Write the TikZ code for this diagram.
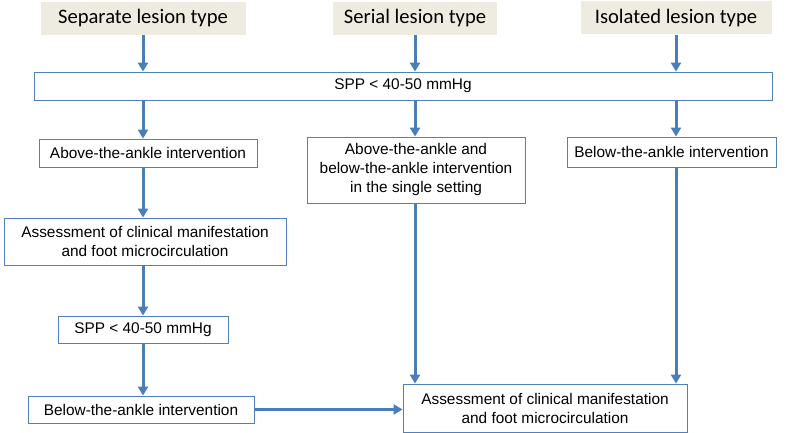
\documentclass[tikz,border=0pt]{standalone}
\usepackage{fontspec}
\setmainfont{Liberation Sans}
\newfontfamily\hdfont{Carlito}
\usetikzlibrary{arrows.meta}
\definecolor{arr}{HTML}{4A7EBB}
\definecolor{bord}{HTML}{4F81BD}
\definecolor{hdr}{HTML}{EEECE1}
\tikzset{
  hdrbox/.style={fill=hdr, inner sep=0pt, font=\hdfont\fontsize{20.6}{24}\selectfont},
  flowbox/.style={draw=bord, line width=0.9pt, fill=white, inner sep=0pt, align=center,
    font=\fontsize{15.4}{19}\selectfont},
  flowarr/.style={draw=arr, line width=3pt, -{Triangle[width=10pt,length=9pt]}},
}
\begin{document}
\begin{tikzpicture}[x=1pt,y=1pt]
\useasboundingbox (0,0) rectangle (787,-433);
% headers
\node[hdrbox, minimum width=205, minimum height=33] (h1) at (143,-18.5) {Separate lesion type};
\node[hdrbox, minimum width=164, minimum height=33] (h2) at (415,-18.5) {Serial lesion type};
\node[hdrbox, minimum width=191, minimum height=33] (h3) at (676,-18) {Isolated lesion type};
% boxes
\node[flowbox, minimum width=738, minimum height=28] (spp) at (403,-86) {SPP < 40-50 mmHg};
\node[flowbox, minimum width=218, minimum height=28] (above) at (148,-153) {Above-the-ankle intervention};
\node[flowbox, minimum width=218, minimum height=66] (serial) at (416,-170) {Above-the-ankle and\\below-the-ankle intervention\\in the single setting};
\node[flowbox, minimum width=209, minimum height=30] (belowR) at (671.5,-152) {Below-the-ankle intervention};
\node[flowbox, minimum width=282, minimum height=47] (assessL) at (145,-241.5) {Assessment of clinical manifestation\\and foot microcirculation};
\node[flowbox, minimum width=170, minimum height=27] (sppS) at (143,-329.5) {SPP < 40-50 mmHg};
\node[flowbox, minimum width=226, minimum height=27] (belowL) at (141,-409.5) {Below-the-ankle intervention};
\node[flowbox, minimum width=284, minimum height=48] (assessR) at (545,-408) {Assessment of clinical manifestation\\and foot microcirculation};
% arrows
\draw[flowarr] (h1.south) -- (h1.south |- spp.north);
\draw[flowarr] (h2.south) -- (h2.south |- spp.north);
\draw[flowarr] (h3.south) -- (h3.south |- spp.north);
\draw[flowarr] (h1.south |- spp.south) -- (h1.south |- above.north);
\draw[flowarr] (h2.south |- spp.south) -- (h2.south |- serial.north);
\draw[flowarr] (h3.south |- spp.south) -- (h3.south |- belowR.north);
\draw[flowarr] (h1.south |- above.south) -- (h1.south |- assessL.north);
\draw[flowarr] (h1.south |- assessL.south) -- (h1.south |- sppS.north);
\draw[flowarr] (h1.south |- sppS.south) -- (h1.south |- belowL.north);
\draw[flowarr] (belowL.east) -- (belowL.east -| assessR.west);
\draw[flowarr] (h2.south |- serial.south) -- (h2.south |- assessR.north);
\draw[flowarr] (h3.south |- belowR.south) -- (h3.south |- assessR.north);
\end{tikzpicture}
\end{document}
